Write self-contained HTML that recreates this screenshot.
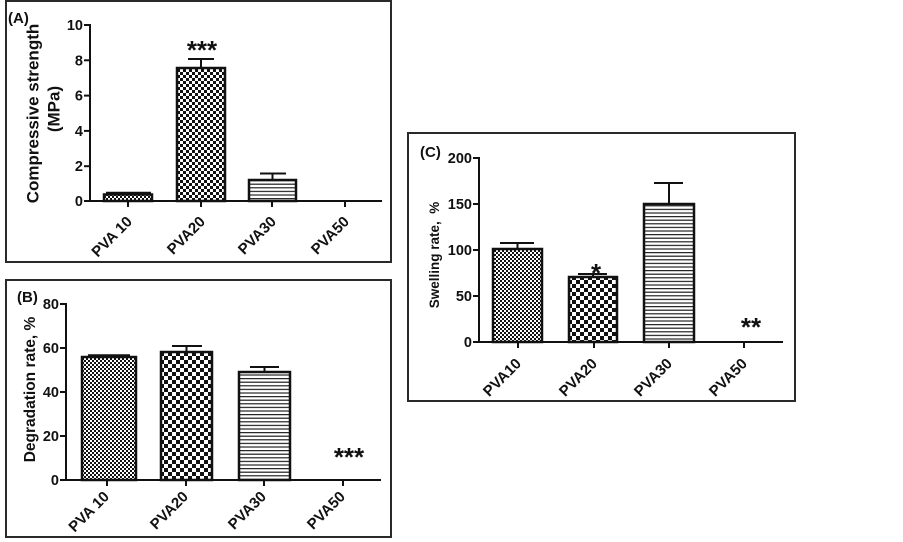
<!DOCTYPE html>
<html>
<head>
<meta charset="utf-8">
<style>
html,body{margin:0;padding:0;background:#fff;}
svg{display:block;}
text{font-family:"Liberation Sans",Arial,sans-serif;fill:#111;}
.t{font-size:14.5px;font-weight:bold;}
.x{font-size:15px;font-weight:bold;}
</style>
</head>
<body>
<svg width="903" height="542" viewBox="0 0 903 542" xmlns="http://www.w3.org/2000/svg">
<defs>
  <pattern id="fine" patternUnits="userSpaceOnUse" width="4" height="4">
    <rect width="4" height="4" fill="#fff"/>
    <rect x="0" y="0" width="2" height="2" fill="#111"/>
    <rect x="2" y="2" width="2" height="2" fill="#111"/>
  </pattern>
  <pattern id="chkA" patternUnits="userSpaceOnUse" width="6" height="6">
    <rect width="6" height="6" fill="#fff"/>
    <rect x="0" y="0" width="3" height="3" fill="#111"/>
    <rect x="3" y="3" width="3" height="3" fill="#111"/>
  </pattern>
  <pattern id="chkB" patternUnits="userSpaceOnUse" width="8" height="8">
    <rect width="8" height="8" fill="#fff"/>
    <rect x="0" y="0" width="4" height="4" fill="#111"/>
    <rect x="4" y="4" width="4" height="4" fill="#111"/>
  </pattern>
  <pattern id="str" patternUnits="userSpaceOnUse" width="8" height="3.6">
    <rect width="8" height="3.6" fill="#fff"/>
    <rect x="0" y="0" width="8" height="1.2" fill="#222"/>
  </pattern>
</defs>

<!-- Panel borders -->
<rect x="6" y="1" width="385" height="261" fill="none" stroke="#2a2a2a" stroke-width="2"/>
<rect x="6" y="280" width="385" height="257" fill="none" stroke="#2a2a2a" stroke-width="2"/>
<rect x="408" y="133" width="387" height="268" fill="none" stroke="#2a2a2a" stroke-width="2"/>

<!-- ================= Panel A ================= -->
<text x="8" y="23" style="font-size:15px;font-weight:bold">(A)</text>
<g stroke="#111" stroke-width="2" fill="none">
  <line x1="90" y1="24" x2="90" y2="202"/>
  <line x1="89" y1="201" x2="382" y2="201"/>
  <line x1="84" y1="25" x2="90" y2="25"/>
  <line x1="84" y1="60.3" x2="90" y2="60.3"/>
  <line x1="84" y1="95.6" x2="90" y2="95.6"/>
  <line x1="84" y1="130.9" x2="90" y2="130.9"/>
  <line x1="84" y1="166.2" x2="90" y2="166.2"/>
  <line x1="84" y1="201" x2="90" y2="201"/>
  <line x1="128" y1="201" x2="128" y2="207"/>
  <line x1="201" y1="201" x2="201" y2="207"/>
  <line x1="272" y1="201" x2="272" y2="207"/>
  <line x1="345" y1="201" x2="345" y2="207"/>
</g>
<g text-anchor="end">
  <text class="t" x="83" y="30">10</text>
  <text class="t" x="83" y="65.3">8</text>
  <text class="t" x="83" y="100.6">6</text>
  <text class="t" x="83" y="135.9">4</text>
  <text class="t" x="83" y="171.2">2</text>
  <text class="t" x="83" y="206">0</text>
</g>
<text transform="translate(38.5,113.5) rotate(-90)" text-anchor="middle" style="font-size:17px;font-weight:bold">Compressive strength</text>
<text transform="translate(59.5,109) rotate(-90)" text-anchor="middle" style="font-size:17px;font-weight:bold">(MPa)</text>
<g stroke="#111" stroke-width="2">
  <line x1="106" y1="193" x2="151" y2="193" stroke-width="2.5"/>
  <line x1="201" y1="67" x2="201" y2="59"/>
  <line x1="188" y1="59" x2="214" y2="59"/>
  <line x1="272.5" y1="179" x2="272.5" y2="173.5"/>
  <line x1="260" y1="173.5" x2="286" y2="173.5"/>
</g>
<rect x="104" y="194.5" width="48" height="6.5" fill="url(#fine)" stroke="#111" stroke-width="2.5"/>
<rect x="177" y="68" width="48" height="133" fill="url(#chkA)" stroke="#111" stroke-width="2.5"/>
<rect x="249" y="180" width="47" height="21" fill="url(#str)" stroke="#111" stroke-width="2.5"/>
<text x="202" y="59" text-anchor="middle" style="font-size:26px;font-weight:bold">***</text>
<g text-anchor="end">
  <text class="x" transform="translate(133,222.5) rotate(-45)">PVA 10</text>
  <text class="x" transform="translate(206,222.5) rotate(-45)">PVA20</text>
  <text class="x" transform="translate(277,222.5) rotate(-45)">PVA30</text>
  <text class="x" transform="translate(350,222.5) rotate(-45)">PVA50</text>
</g>

<!-- ================= Panel B ================= -->
<text x="17" y="302" style="font-size:15px;font-weight:bold">(B)</text>
<g stroke="#111" stroke-width="2" fill="none">
  <line x1="66" y1="303" x2="66" y2="481"/>
  <line x1="65" y1="480" x2="381" y2="480"/>
  <line x1="60" y1="304" x2="66" y2="304"/>
  <line x1="60" y1="348" x2="66" y2="348"/>
  <line x1="60" y1="392" x2="66" y2="392"/>
  <line x1="60" y1="436" x2="66" y2="436"/>
  <line x1="60" y1="480" x2="66" y2="480"/>
  <line x1="107" y1="480" x2="107" y2="486"/>
  <line x1="186" y1="480" x2="186" y2="486"/>
  <line x1="264" y1="480" x2="264" y2="486"/>
  <line x1="343" y1="480" x2="343" y2="486"/>
</g>
<g text-anchor="end">
  <text class="t" x="59" y="309">80</text>
  <text class="t" x="59" y="353">60</text>
  <text class="t" x="59" y="397">40</text>
  <text class="t" x="59" y="441">20</text>
  <text class="t" x="59" y="485">0</text>
</g>
<text transform="translate(35,389.5) rotate(-90)" text-anchor="middle" style="font-size:15.5px;font-weight:bold">Degradation rate, %</text>
<g stroke="#111" stroke-width="2">
  <line x1="88" y1="355.5" x2="130" y2="355.5" stroke-width="2.5"/>
  <line x1="186.5" y1="352" x2="186.5" y2="346"/>
  <line x1="172" y1="346" x2="202" y2="346"/>
  <line x1="264.5" y1="372" x2="264.5" y2="367"/>
  <line x1="250" y1="367" x2="279" y2="367"/>
</g>
<rect x="82" y="357" width="54" height="123" fill="url(#fine)" stroke="#111" stroke-width="2.5"/>
<rect x="161" y="352" width="51" height="128" fill="url(#chkB)" stroke="#111" stroke-width="2.5"/>
<rect x="239" y="372" width="51" height="108" fill="url(#str)" stroke="#111" stroke-width="2.5"/>
<text x="349" y="466" text-anchor="middle" style="font-size:26px;font-weight:bold">***</text>
<g text-anchor="end">
  <text class="x" transform="translate(110,497.5) rotate(-45)">PVA 10</text>
  <text class="x" transform="translate(189,497.5) rotate(-45)">PVA20</text>
  <text class="x" transform="translate(267,497.5) rotate(-45)">PVA30</text>
  <text class="x" transform="translate(346,497.5) rotate(-45)">PVA50</text>
</g>

<!-- ================= Panel C ================= -->
<text x="420" y="157" style="font-size:15px;font-weight:bold">(C)</text>
<g stroke="#111" stroke-width="2" fill="none">
  <line x1="479" y1="157" x2="479" y2="343"/>
  <line x1="478" y1="342" x2="783" y2="342"/>
  <line x1="473" y1="158" x2="479" y2="158"/>
  <line x1="473" y1="204" x2="479" y2="204"/>
  <line x1="473" y1="250" x2="479" y2="250"/>
  <line x1="473" y1="296" x2="479" y2="296"/>
  <line x1="473" y1="342" x2="479" y2="342"/>
  <line x1="518" y1="342" x2="518" y2="348"/>
  <line x1="594" y1="342" x2="594" y2="348"/>
  <line x1="669" y1="342" x2="669" y2="348"/>
  <line x1="744" y1="342" x2="744" y2="348"/>
</g>
<g text-anchor="end">
  <text class="t" x="472" y="163">200</text>
  <text class="t" x="472" y="209">150</text>
  <text class="t" x="472" y="255">100</text>
  <text class="t" x="472" y="301">50</text>
  <text class="t" x="472" y="347">0</text>
</g>
<text transform="translate(439,255) rotate(-90)" text-anchor="middle" style="font-size:13.5px;font-weight:bold" xml:space="preserve">Swelling rate,  %</text>
<g stroke="#111" stroke-width="2">
  <line x1="517.5" y1="249" x2="517.5" y2="243"/>
  <line x1="500" y1="243" x2="534" y2="243"/>
  <line x1="593" y1="277" x2="593" y2="274"/>
  <line x1="578" y1="274" x2="607" y2="274"/>
  <line x1="669" y1="203" x2="669" y2="183"/>
  <line x1="654" y1="183" x2="683" y2="183"/>
</g>
<rect x="493" y="249" width="49" height="93" fill="url(#fine)" stroke="#111" stroke-width="2.5"/>
<rect x="569" y="277" width="48" height="65" fill="url(#chkB)" stroke="#111" stroke-width="2.5"/>
<rect x="644" y="204" width="50" height="138" fill="url(#str)" stroke="#111" stroke-width="2.5"/>
<text x="596" y="282" text-anchor="middle" style="font-size:26px;font-weight:bold">*</text>
<text x="751" y="336" text-anchor="middle" style="font-size:26px;font-weight:bold">**</text>
<g text-anchor="end">
  <text class="x" transform="translate(522,364.5) rotate(-45)">PVA10</text>
  <text class="x" transform="translate(598,364.5) rotate(-45)">PVA20</text>
  <text class="x" transform="translate(673,364.5) rotate(-45)">PVA30</text>
  <text class="x" transform="translate(748,364.5) rotate(-45)">PVA50</text>
</g>
</svg>
</body>
</html>
